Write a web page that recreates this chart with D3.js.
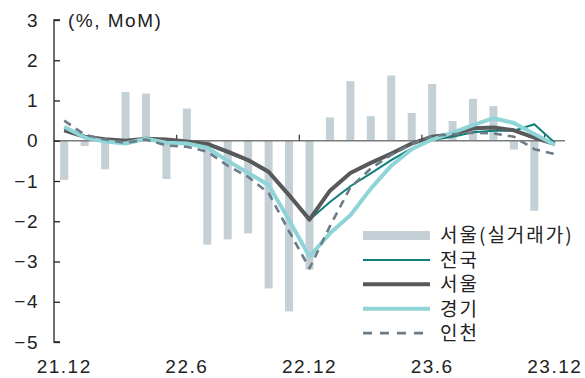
<!DOCTYPE html>
<html>
<head>
<meta charset="utf-8">
<script src="https://cdn.jsdelivr.net/npm/d3@7"></script>
<style>
  html, body { margin: 0; padding: 0; background: #fff; }
  svg { display: block; }
  .tick-label { font-family: "Liberation Sans", Arial, sans-serif; font-size: 19px; fill: #222; letter-spacing: 1.5px; }
  .legend-label { font-family: "Noto Sans CJK KR", sans-serif; font-size: 19px; fill: #222; letter-spacing: 2px; }
</style>
</head>
<body>
<svg id="chart" width="585" height="378"></svg>
<script>
const months = [
  "21.12", "22.1", "22.2", "22.3", "22.4", "22.5", "22.6", "22.7", "22.8",
  "22.9", "22.10", "22.11", "22.12", "23.1", "23.2", "23.3", "23.4", "23.5",
  "23.6", "23.7", "23.8", "23.9", "23.10", "23.11", "23.12",
];
const xTickLabels = ["21.12", "22.6", "22.12", "23.6", "23.12"];
const yTicks = [3, 2, 1, 0, -1, -2, -3, -4, -5];

// 서울(실거래가) bars
const seoulDeal = [
  -0.97, -0.13, -0.71, 1.21, 1.17, -0.95, 0.8, -2.58, -2.45, -2.3, -3.67,
  -4.24, -3.2, 0.58, 1.48, 0.61, 1.62, 0.69, 1.41, 0.49, 1.04, 0.86, -0.22,
  -1.74, null,
];
const nation = [
  0.3, 0.1, 0.02, -0.02, 0.05, 0.02, -0.03, -0.1, -0.3, -0.5, -0.8, -1.38,
  -1.96, -1.52, -1.13, -0.81, -0.48, -0.19, 0.02, 0.1, 0.21, 0.25, 0.25,
  0.41, -0.05,
];
const seoul = [
  0.26, 0.1, 0.04, 0.0, 0.05, 0.03, -0.02, -0.08, -0.27, -0.48, -0.77, -1.35,
  -1.96, -1.24, -0.8, -0.55, -0.32, -0.07, 0.1, 0.16, 0.31, 0.33, 0.26, 0.08,
  -0.08,
];
const gyeonggi = [
  0.35, 0.08, -0.02, -0.07, 0.05, -0.05, -0.07, -0.17, -0.5, -0.8, -1.1,
  -1.97, -2.88, -2.3, -1.85, -1.19, -0.62, -0.21, 0.03, 0.2, 0.39, 0.56,
  0.44, 0.17, -0.1,
];
const incheon = [
  0.5, 0.15, 0.03, -0.05, 0.03, -0.12, -0.15, -0.27, -0.62, -0.9, -1.3,
  -2.25, -3.17, -2.12, -1.16, -0.69, -0.35, -0.08, 0.12, 0.16, 0.2, 0.18,
  0.1, -0.21, -0.33,
];

const legendNames = ["서울(실거래가)", "전국", "서울", "경기", "인천"];

(function drawChart() {
  const svg = d3.select("#chart");

  const x = d3.scaleBand().domain(months).range([54, 565]);
  const y = d3.scaleLinear().domain([-5, 3]).range([342, 20]);
  const cx = (m) => x(m) + x.bandwidth() / 2;
  const barWidth = 8;

  // bars
  svg
    .append("g")
    .selectAll("rect")
    .data(months.map((m, i) => ({ m, v: seoulDeal[i] })).filter((d) => d.v !== null))
    .join("rect")
    .attr("x", (d) => cx(d.m) - barWidth / 2)
    .attr("width", barWidth)
    .attr("y", (d) => y(Math.max(0, d.v)))
    .attr("height", (d) => Math.abs(y(d.v) - y(0)))
    .attr("fill", "#c5cfd6");

  // zero axis
  const xAxisG = svg.append("g");
  xAxisG
    .append("line")
    .attr("x1", x.range()[0])
    .attr("x2", x.range()[1])
    .attr("y1", y(0))
    .attr("y2", y(0))
    .attr("stroke", "#7a7a7a")
    .attr("stroke-width", 1.5);
  xAxisG
    .selectAll("line.tick")
    .data(xTickLabels.slice(1))
    .join("line")
    .attr("class", "tick")
    .attr("x1", (d) => x(d))
    .attr("x2", (d) => x(d))
    .attr("y1", y(0))
    .attr("y2", y(0) - 6)
    .attr("stroke", "#333")
    .attr("stroke-width", 1.2);

  xAxisG
    .selectAll("text")
    .data(xTickLabels)
    .join("text")
    .attr("class", "tick-label")
    .attr("x", (d) => cx(d))
    .attr("y", 373)
    .attr("text-anchor", "middle")
    .text((d) => d);

  // y axis
  const yAxisG = svg.append("g").attr("transform", "translate(54,0)");
  yAxisG.call(
    d3.axisRight(y).tickValues(yTicks).tickSize(6).tickFormat(""),
  );
  yAxisG.select(".domain").attr("stroke", "#222").attr("stroke-width", 1.3)
    .attr("d", `M6,${y(3)}H0V${y(-5)}H6`);
  yAxisG.selectAll(".tick line").attr("stroke", "#222").attr("stroke-width", 1.3);

  svg
    .append("g")
    .selectAll("text")
    .data(yTicks)
    .join("text")
    .attr("class", "tick-label")
    .attr("x", 39)
    .attr("y", (d) => y(d))
    .attr("dy", "0.35em")
    .attr("text-anchor", "end")
    .text((d) => d3.format("")(d));

  svg
    .append("text")
    .attr("class", "tick-label")
    .attr("x", 68)
    .attr("y", 27)
    .text("(%, MoM)");

  // lines
  const line = d3
    .line()
    .defined((d) => d.v !== null)
    .x((d) => cx(d.m))
    .y((d) => y(d.v));

  const series = [
    { values: nation, color: "#0f7f7b", width: 2, dash: null },
    { values: seoul, color: "#595959", width: 4, dash: null },
    { values: gyeonggi, color: "#8fd4d7", width: 4, dash: null },
    { values: incheon, color: "#6b7c87", width: 2.6, dash: "8,6" },
  ];

  svg
    .append("g")
    .selectAll("path")
    .data(series)
    .join("path")
    .attr("d", (s) => line(months.map((m, i) => ({ m, v: s.values[i] }))))
    .attr("fill", "none")
    .attr("stroke", (s) => s.color)
    .attr("stroke-width", (s) => s.width)
    .attr("stroke-dasharray", (s) => s.dash)
    .attr("stroke-linejoin", "round");

  // legend
  const legend = svg.append("g");
  const rowY = (i) => 235.5 + i * 24.4;
  legend
    .append("rect")
    .attr("x", 363)
    .attr("y", rowY(0) - 4.5)
    .attr("width", 67)
    .attr("height", 9)
    .attr("fill", "#c5cfd6");
  legend
    .selectAll("line")
    .data(series)
    .join("line")
    .attr("x1", 363)
    .attr("x2", 430)
    .attr("y1", (s, i) => rowY(i + 1))
    .attr("y2", (s, i) => rowY(i + 1))
    .attr("stroke", (s) => s.color)
    .attr("stroke-width", (s) => s.width)
    .attr("stroke-dasharray", (s) => (s.dash ? "9,8" : null));
  legend
    .selectAll("text")
    .data(legendNames)
    .join("text")
    .attr("class", "legend-label")
    .attr("x", 440)
    .attr("y", (d, i) => rowY(i))
    .attr("dy", "0.36em")
    .text((d) => d);
})();
</script>
</body>
</html>
